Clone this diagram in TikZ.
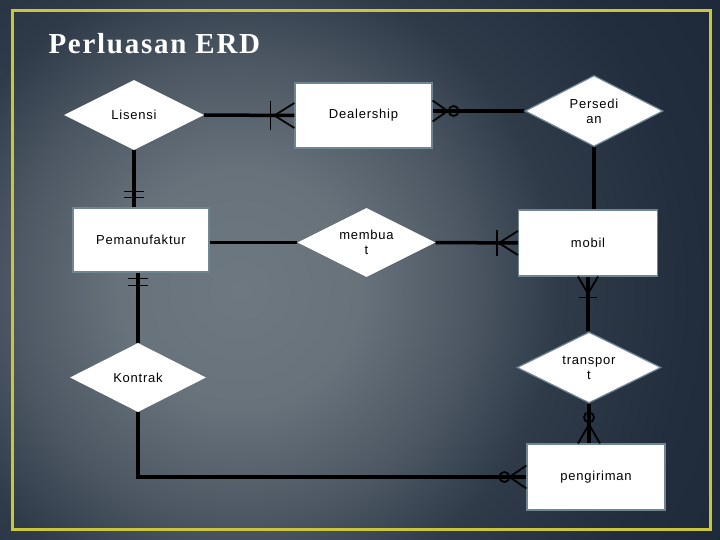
\documentclass[tikz,border=0pt]{standalone}
\usepackage{fontspec}
\setmainfont{Liberation Sans}
\newfontfamily\titlefont[LetterSpace=6]{Liberation Serif}
\newfontfamily\nodefont[LetterSpace=6]{Liberation Sans}
\usetikzlibrary{shapes.geometric,calc}
\definecolor{bga}{HTML}{6E7881}
\definecolor{bgb}{HTML}{67727B}
\definecolor{bgc}{HTML}{4C5763}
\definecolor{bgd}{HTML}{2F3B49}
\definecolor{bge}{HTML}{222E3D}
\definecolor{bgf}{HTML}{1C2837}
\definecolor{framecol}{HTML}{C9C63E}
\definecolor{entbd}{HTML}{6F8592}
\pgfdeclareradialshading{bgshade}{\pgfpoint{0bp}{0bp}}{color(0bp)=(bga); color(5bp)=(bgb); color(9.6bp)=(bgc); color(13.3bp)=(bgd); color(18.75bp)=(bge); color(25bp)=(bgf); color(50bp)=(bgf)}
\newcommand\crowf[4]{\draw[cfln,shift={(#1)},rotate=#2] (0,-#4) -- (#3,0) -- (0,#4);}
\newcommand\barmark[4]{\draw[barln,shift={(#1)},rotate=#2] (#3,-#4) -- (#3,#4);}
\newcommand\circmark[4]{\draw[cfln,shift={(#1)},rotate=#2] (#3,0) circle[radius=#4pt];}
\tikzset{
  ent/.style={rectangle, fill=white, draw=entbd, line width=1.2pt, inner sep=0pt,
    font=\nodefont\fontsize{13}{15}\selectfont, text=black, align=center},
  rel/.style={diamond, fill=white, inner sep=0pt, aspect=2,
    font=\nodefont\fontsize{13}{15}\selectfont, text=black, align=center},
  relb/.style={rel, draw=entbd, line width=1.2pt},
  conn/.style={draw=black, line width=3.5pt},
  cfln/.style={draw=black, line width=1.8pt},
  barln/.style={draw=black, line width=1.5pt},
}
\begin{document}
\begin{tikzpicture}[x=1pt,y=-1pt]
\useasboundingbox (0,0) rectangle (720,540);
\begin{scope}
  \clip (0,0) rectangle (720,540);
  \shade[shading=bgshade] (-360,-310) rectangle (840,890);
\end{scope}
\draw[framecol, line width=3pt] (12,11) rectangle (710,529);
\node[anchor=base west, text=white, font=\titlefont\bfseries\fontsize{29}{30}\selectfont] (title) at (45,54) {Perluasan ERD};

\node[rel, minimum width=140, minimum height=70] (lis) at (134,115) {Lisensi};
\node[ent, minimum width=137, minimum height=65] (deal) at (363.5,115.5) {Dealership};
\node[relb, minimum width=138, minimum height=71] (pers) at (594,111) {Persedi\\an};
\node[ent, minimum width=136, minimum height=64] (pem) at (141,240) {Pemanufaktur};
\node[rel, minimum width=138, minimum height=69] (mem) at (366.5,242.5) {membua\\t};
\node[ent, minimum width=139, minimum height=66] (mob) at (588,243) {mobil};
\node[rel, minimum width=136, minimum height=69] (kon) at (138,377.5) {Kontrak};
\node[relb, minimum width=144, minimum height=71] (tra) at (589,367.5) {transpor\\t};
\node[ent, minimum width=138, minimum height=66] (peng) at (596,477) {pengiriman};

% Lisensi - Dealership
\draw[conn] (lis.east) -- (deal.west);
\crowf{deal.west}{180}{20}{12.5}
\barmark{deal.west}{180}{24}{14.5}
% Dealership - Persedian
\coordinate (dealE) at (pers.west -| deal.east);
\draw[conn] (pers.west) -- (dealE);
\crowf{dealE}{0}{15}{10.5}
\circmark{dealE}{0}{21}{5}
% Lisensi - Pemanufaktur
\coordinate (pemN) at (lis.south |- pem.north);
\draw[conn] (lis.south) -- (pemN);
\barmark{pemN}{90}{10}{10}
\barmark{pemN}{90}{16}{10}
% Pemanufaktur - Kontrak
\coordinate (pemS) at (kon.north |- pem.south);
\draw[conn] (pemS) -- (kon.north);
\barmark{pemS}{-90}{6}{10}
\barmark{pemS}{-90}{13}{10}
% Pemanufaktur - membuat
\coordinate (pemE) at (mem.west -| pem.east);
\draw[conn] (pemE) -- (mem.west);
% membuat - mobil
\draw[conn] (mem.east) -- (mob.west);
\crowf{mob.west}{180}{19}{12}
\barmark{mob.west}{180}{21}{12.5}
% Persedian - mobil
\coordinate (mobN) at (pers.south |- mob.north);
\draw[conn] (pers.south) -- (mobN);
% mobil - transport
\coordinate (traN) at (mob.south |- tra.north);
\draw[conn] (mob.south) -- (traN);
\crowf{mob.south}{-90}{17}{10}
\barmark{mob.south}{-90}{21}{9}
% transport - pengiriman
\coordinate (pengN) at (tra.south |- peng.north);
\draw[conn] (tra.south) -- (pengN);
\crowf{pengN}{90}{19}{11}
\circmark{pengN}{90}{26}{5}
% Kontrak - pengiriman
\draw[conn] (kon.south) |- (peng.west);
\crowf{peng.west}{180}{17}{11.5}
\circmark{peng.west}{180}{22}{5}
\end{tikzpicture}
\end{document}
